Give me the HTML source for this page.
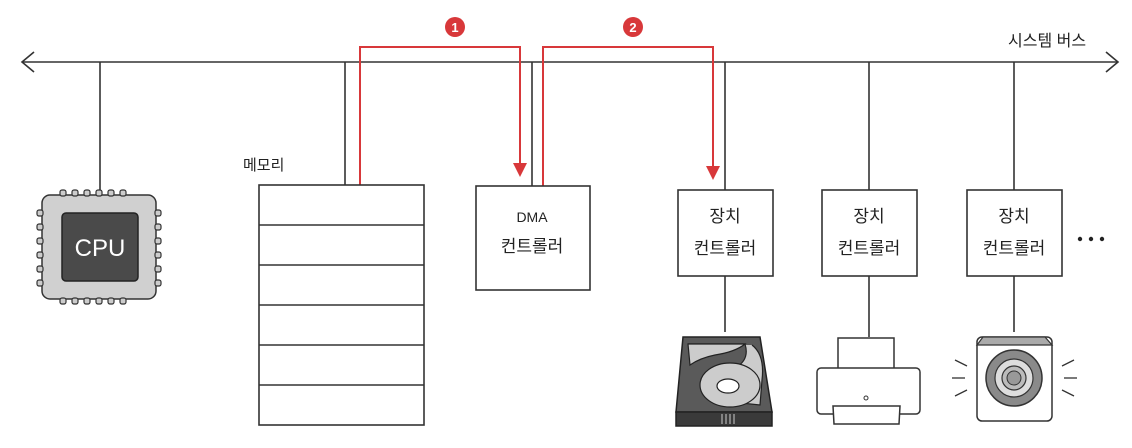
<!DOCTYPE html>
<html><head><meta charset="utf-8"><style>
html,body{margin:0;padding:0;background:#fff}
svg text{font-family:"Liberation Sans","Noto Sans CJK KR",sans-serif;fill:#222}
</style></head><body>
<svg width="1132" height="443" viewBox="0 0 1132 443" xmlns="http://www.w3.org/2000/svg">
<g stroke="#333" stroke-width="1.6" fill="none">
<line x1="22" y1="62" x2="1118" y2="62"/>
<polyline points="34,52 22,62 34,72"/>
<polyline points="1106,52 1118,62 1106,72"/>
<line x1="100" y1="62" x2="100" y2="190"/>
<line x1="345" y1="62" x2="345" y2="185"/>
<line x1="532" y1="62" x2="532" y2="186"/>
<line x1="725" y1="62" x2="725" y2="190"/>
<line x1="869" y1="62" x2="869" y2="190"/>
<line x1="1014" y1="62" x2="1014" y2="190"/>
<line x1="725" y1="275" x2="725" y2="332"/>
<line x1="869" y1="275" x2="869" y2="337"/>
<line x1="1014" y1="275" x2="1014" y2="332"/>
</g>
<g stroke="#d8383a" stroke-width="2" fill="none">
<polyline points="360,185 360,47 520,47 520,165"/>
<polyline points="543,186 543,47 713,47 713,168"/>
</g>
<polygon points="513,163 527,163 520,177" fill="#d8383a"/>
<polygon points="706,166 720,166 713,180" fill="#d8383a"/>
<circle cx="455" cy="27" r="10" fill="#d8383a"/>
<text x="455" y="32" text-anchor="middle" font-size="13" font-weight="bold" style="fill:#fff">1</text>
<circle cx="633" cy="27" r="10" fill="#d8383a"/>
<text x="633" y="32" text-anchor="middle" font-size="13" font-weight="bold" style="fill:#fff">2</text>
<text x="1008" y="46" font-size="16">시스템 버스</text>
<!-- CPU -->
<rect x="42" y="195" width="114" height="104" rx="8" fill="#d0d0d0" stroke="#333" stroke-width="1.5"/>
<g fill="#ccc" stroke="#333" stroke-width="1.2">
<rect x="60" y="190" width="6" height="6" rx="2"/><rect x="72" y="190" width="6" height="6" rx="2"/><rect x="84" y="190" width="6" height="6" rx="2"/><rect x="96" y="190" width="6" height="6" rx="2"/><rect x="108" y="190" width="6" height="6" rx="2"/><rect x="120" y="190" width="6" height="6" rx="2"/>
<rect x="60" y="298" width="6" height="6" rx="2"/><rect x="72" y="298" width="6" height="6" rx="2"/><rect x="84" y="298" width="6" height="6" rx="2"/><rect x="96" y="298" width="6" height="6" rx="2"/><rect x="108" y="298" width="6" height="6" rx="2"/><rect x="120" y="298" width="6" height="6" rx="2"/>
<rect x="37" y="210" width="6" height="6" rx="2"/><rect x="37" y="224" width="6" height="6" rx="2"/><rect x="37" y="238" width="6" height="6" rx="2"/><rect x="37" y="252" width="6" height="6" rx="2"/><rect x="37" y="266" width="6" height="6" rx="2"/><rect x="37" y="280" width="6" height="6" rx="2"/>
<rect x="155" y="210" width="6" height="6" rx="2"/><rect x="155" y="224" width="6" height="6" rx="2"/><rect x="155" y="238" width="6" height="6" rx="2"/><rect x="155" y="252" width="6" height="6" rx="2"/><rect x="155" y="266" width="6" height="6" rx="2"/><rect x="155" y="280" width="6" height="6" rx="2"/>
</g>
<rect x="62" y="213" width="76" height="68" rx="4" fill="#4a4a4a" stroke="#222" stroke-width="1.5"/>
<text x="100" y="256" text-anchor="middle" font-size="24" style="fill:#fff">CPU</text>
<!-- Memory -->
<text x="243" y="170" font-size="15">메모리</text>
<rect x="259" y="185" width="165" height="240" fill="#fff" stroke="#333" stroke-width="1.6"/>
<g stroke="#333" stroke-width="1.6">
<line x1="259" y1="225" x2="424" y2="225"/><line x1="259" y1="265" x2="424" y2="265"/><line x1="259" y1="305" x2="424" y2="305"/><line x1="259" y1="345" x2="424" y2="345"/><line x1="259" y1="385" x2="424" y2="385"/>
</g>
<!-- DMA -->
<rect x="476" y="186" width="114" height="104" fill="#fff" stroke="#333" stroke-width="1.6"/>
<text x="532" y="222" text-anchor="middle" font-size="14">DMA</text>
<text x="532" y="252" text-anchor="middle" font-size="17">컨트롤러</text>
<g stroke="#333" stroke-width="1.6" fill="#fff">
<rect x="678" y="190" width="95" height="86"/>
<rect x="822" y="190" width="95" height="86"/>
<rect x="967" y="190" width="95" height="86"/>
</g>
<g font-size="17" text-anchor="middle">
<text x="725" y="222">장치</text><text x="725" y="254">컨트롤러</text>
<text x="869" y="222">장치</text><text x="869" y="254">컨트롤러</text>
<text x="1014" y="222">장치</text><text x="1014" y="254">컨트롤러</text>
</g>
<g fill="#222"><circle cx="1080" cy="239" r="2.2"/><circle cx="1091" cy="239" r="2.2"/><circle cx="1102" cy="239" r="2.2"/></g>
<!-- HDD -->
<polygon points="683,337 760,337 772,412 676,412" fill="#5a5a5a" stroke="#222" stroke-width="1.5"/>
<rect x="676" y="412" width="96" height="14" fill="#3a3a3a" stroke="#222" stroke-width="1.5"/>
<path d="M688,344 L745,344 Q750,360 735,368 Q705,380 712,400 L760,405 L762,380 Q765,355 752,345" fill="#ccc" stroke="#222" stroke-width="1.2"/>
<path d="M688,344 L745,344 Q735,352 715,355 Q700,358 690,365 Z" fill="#ccc" stroke="#222" stroke-width="1.2"/>
<ellipse cx="730" cy="385" rx="30" ry="22" fill="#ccc" stroke="#222" stroke-width="1.2"/>
<ellipse cx="728" cy="386" rx="11" ry="7" fill="#fff" stroke="#222" stroke-width="1.2"/>
<g stroke="#ccc" stroke-width="1"><line x1="722" y1="414" x2="722" y2="424"/><line x1="726" y1="414" x2="726" y2="424"/><line x1="730" y1="414" x2="730" y2="424"/><line x1="734" y1="414" x2="734" y2="424"/></g>
<!-- Printer -->
<rect x="838" y="338" width="56" height="32" fill="#fff" stroke="#333" stroke-width="1.5"/>
<rect x="817" y="368" width="103" height="46" rx="4" fill="#fff" stroke="#333" stroke-width="1.5"/>
<circle cx="866" cy="398" r="2" fill="none" stroke="#333"/>
<polygon points="833,406 900,406 899,424 834,424" fill="#fff" stroke="#333" stroke-width="1.5"/>
<!-- Speaker -->
<rect x="977" y="337" width="75" height="84" rx="5" fill="#fff" stroke="#333" stroke-width="1.5"/>
<polygon points="983,337 1045,337 1052,345 977,345" fill="#aaa" stroke="#333" stroke-width="1.2"/>
<circle cx="1014" cy="378" r="28" fill="#8a8a8a" stroke="#333" stroke-width="1.5"/>
<circle cx="1014" cy="378" r="19" fill="#ddd" stroke="#333" stroke-width="1.2"/>
<circle cx="1014" cy="378" r="12" fill="#bbb" stroke="#333" stroke-width="1.2"/>
<circle cx="1014" cy="378" r="7" fill="#999" stroke="#333" stroke-width="1"/>
<g stroke="#333" stroke-width="1.3">
<line x1="955" y1="360" x2="967" y2="366"/><line x1="952" y1="378" x2="965" y2="378"/><line x1="955" y1="396" x2="967" y2="390"/>
<line x1="1062" y1="366" x2="1074" y2="360"/><line x1="1064" y1="378" x2="1077" y2="378"/><line x1="1062" y1="390" x2="1074" y2="396"/>
</g>
</svg>
</body></html>
